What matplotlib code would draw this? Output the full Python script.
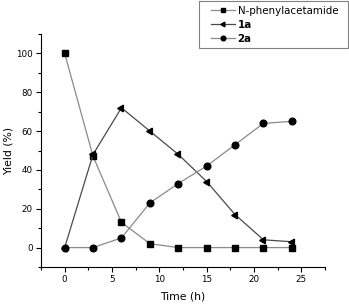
import numpy as np
import matplotlib.pyplot as plt
from matplotlib.ticker import MultipleLocator
from matplotlib.patches import Rectangle

# data
time_h = [0, 3, 6, 9, 12, 15, 18, 21, 24]
acetamide = [100, 47, 13, 2, 0, 0, 0, 0, 0]
y_1a = [0, 48, 72, 60, 48, 34, 17, 4, 3]
y_2a = [0, 0, 5, 23, 33, 42, 53, 64, 65]

plt.rcParams['font.family'] = ['DejaVu Sans']

W, H = 349, 304
fig = plt.figure(figsize=(W / 100, H / 100), dpi=100)
ax = fig.add_axes([41 / W, 1 - 267 / H, 284 / W, 233 / H])

l1, = ax.plot(time_h, acetamide, color='#8a8a8a', lw=0.9, marker='s', ms=4,
              mfc='black', mec='black', label='N-phenylacetamide')
l2, = ax.plot(time_h, y_1a, color='#4a4a4a', lw=0.9, marker=(3, 0, 90), ms=5.5,
              mfc='black', mec='black', label='1a')
l3, = ax.plot(time_h, y_2a, color='#8a8a8a', lw=0.9, marker='o', ms=4.8,
              mfc='black', mec='black', label='2a')

ax.set_xlim(-2.5, 27.5)
ax.set_ylim(-10, 110)
ax.xaxis.set_major_locator(MultipleLocator(5))
ax.xaxis.set_minor_locator(MultipleLocator(2.5))
ax.set_yticks(np.arange(0, 101, 20))
ax.yaxis.set_minor_locator(MultipleLocator(10))

for s in ['top', 'right']:
    ax.spines[s].set_visible(False)
ax.tick_params(which='major', direction='out', length=3.5, width=0.8,
               labelsize=6.3, pad=2.5)
ax.tick_params(which='minor', direction='out', length=2, width=0.8)

ax.set_xlabel('Time (h)', fontsize=7.8, labelpad=5)
ax.set_ylabel('Yield (%)', fontsize=7.8)
ax.yaxis.set_label_coords(-0.098, 0.5)

# legend frame, wider padding on the left like the original
fig.patches.append(Rectangle((199 / W, 1 - 48 / H), 149 / W, 47 / H,
                             transform=fig.transFigure, fill=False,
                             ec='#808080', lw=0.8))
leg = fig.legend(handles=[l1, l2, l3], loc='upper left',
                 bbox_to_anchor=(211 / W, 1 - 6 / H), fontsize=7.4,
                 frameon=False, handlelength=2.3, handletextpad=0.3,
                 borderpad=0, borderaxespad=0, labelspacing=0.38,
                 markerscale=0.7)
texts = leg.get_texts()
texts[1].set_fontweight('bold')
texts[2].set_fontweight('bold')

fig.savefig('out.png', dpi=100)
